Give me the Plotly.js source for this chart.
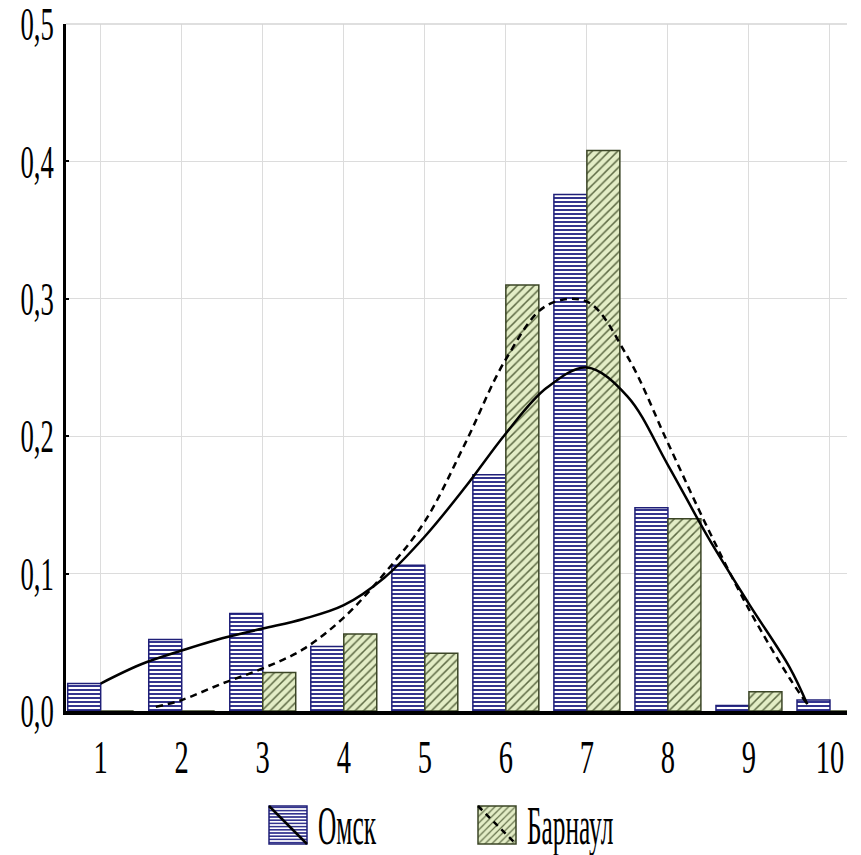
<!DOCTYPE html>
<html><head><meta charset="utf-8">
<script src="https://cdn.plot.ly/plotly-3.0.1.min.js"></script>
<style>html,body{margin:0;padding:0;background:#fff}#chart{width:861px;height:855px}</style>
</head><body><div id="chart"></div>
<script>
const categories = [1, 2, 3, 4, 5, 6, 7, 8, 9, 10];
const xTickLabels = ['1', '2', '3', '4', '5', '6', '7', '8', '9', '10'];
const seriesNames = ['Омск', 'Барнаул'];
const omskValues = [0.020, 0.052, 0.071, 0.047, 0.106, 0.172, 0.376, 0.148, 0.004, 0.008];
const barnaulValues = [0, 0, 0.028, 0.056, 0.042, 0.310, 0.408, 0.140, 0.014, 0];
const omskCurveX = [1, 1.5, 2, 2.5, 3, 3.5, 4, 4.5, 5, 5.5, 6, 6.5, 7, 7.5, 8, 8.5, 9, 9.5, 9.72];
const omskCurveY = [0.020, 0.034, 0.044, 0.053, 0.060, 0.067, 0.077, 0.097, 0.127, 0.163, 0.202, 0.235, 0.250, 0.229, 0.179, 0.126, 0.078, 0.032, 0.005];
const barnaulCurveX = [1.68, 2, 2.5, 3, 3.5, 4, 4.5, 5, 5.5, 6, 6.5, 7, 7.5, 8, 8.5, 9, 9.5, 9.72];
const barnaulCurveY = [0.003, 0.008, 0.020, 0.031, 0.045, 0.068, 0.100, 0.138, 0.195, 0.256, 0.295, 0.298, 0.258, 0.195, 0.132, 0.074, 0.024, 0.005];
const yTickValues = [0, 0.1, 0.2, 0.3, 0.4, 0.5];
const yTickLabels = ['0,0', '0,1', '0,2', '0,3', '0,4', '0,5'];

const FONT = 'Liberation Serif, Times New Roman, serif';
const BW = 0.407;

const traces = [
  {
    type: 'bar', name: seriesNames[0], x: categories, y: omskValues,
    width: BW, offset: -BW,
    marker: {
      color: '#ffffff',
      line: {color: '#1f1f78', width: 1.5},
      pattern: {shape: '-', fgcolor: '#34348e', bgcolor: '#ffffff', size: 4, solidity: 0.5}
    },
    hoverinfo: 'skip'
  },
  {
    type: 'bar', name: seriesNames[1], x: categories, y: barnaulValues,
    width: BW, offset: 0,
    marker: {
      color: '#e3edc6',
      line: {color: '#3b4526', width: 1.5},
      pattern: {shape: '/', fgcolor: '#5d6a44', bgcolor: '#e3edc6', size: 6, solidity: 0.25}
    },
    hoverinfo: 'skip'
  },
  {
    type: 'scatter', mode: 'lines', x: omskCurveX, y: omskCurveY, showlegend: false,
    line: {color: '#000000', width: 2.5, shape: 'spline', smoothing: 1}, hoverinfo: 'skip'
  },
  {
    type: 'scatter', mode: 'lines', x: barnaulCurveX, y: barnaulCurveY, showlegend: false,
    line: {color: '#000000', width: 2.5, dash: '7px,5px', shape: 'spline', smoothing: 1}, hoverinfo: 'skip'
  }
];

const layout = {
  width: 861, height: 855,
  margin: {l: 66, r: 14, t: 24, b: 144, autoexpand: false},
  paper_bgcolor: '#ffffff', plot_bgcolor: '#ffffff',
  showlegend: true,
  barmode: 'overlay',
  font: {family: FONT, color: '#000000', size: 46},
  xaxis: {
    range: [0.572, 10.21],
    tickvals: categories, ticktext: xTickLabels,
    showgrid: true, gridcolor: '#dcdcdc', gridwidth: 1,
    zeroline: false,
    showline: true, linecolor: '#000000', linewidth: 4,
    ticks: '', ticklabelstandoff: 3, ticklabeloverflow: 'allow',
    tickfont: {family: FONT, size: 46, color: '#000000'}
  },
  yaxis: {
    range: [0, 0.5],
    tickvals: yTickValues, ticktext: yTickLabels,
    showgrid: true, gridcolor: '#dcdcdc', gridwidth: 1,
    zeroline: false,
    showline: true, linecolor: '#000000', linewidth: 3,
    ticks: 'inside', ticklen: 3, tickwidth: 2, tickcolor: '#000000',
    ticklabelstandoff: 0, ticklabeloverflow: 'allow',
    tickfont: {family: FONT, size: 46, color: '#000000'}
  },
  shapes: [
    {type: 'line', layer: 'above', xref: 'paper', x0: 0, x1: 1, yref: 'paper', y0: 1, y1: 1,
     line: {color: '#d4d4d4', width: 1.5}}
  ],
  legend: {
    orientation: 'h', x: 0.5, xanchor: 'center', y: 0.9, yanchor: 'top',
    font: {family: FONT, size: 54, color: '#000000'},
    itemwidth: 60, bgcolor: 'rgba(0,0,0,0)', borderwidth: 0
  }
};

function condense(el, s) {
  const bb = el.getBBox();
  const anc = el.getAttribute('text-anchor') || 'start';
  let ax = bb.x;
  if (anc === 'middle') ax = bb.x + bb.width / 2;
  else if (anc === 'end') ax = bb.x + bb.width;
  const t = el.getAttribute('transform') || '';
  el.setAttribute('transform', t + ' translate(' + ax + ',0) scale(' + s + ',1) translate(' + (-ax) + ',0)');
}

function post(gd) {
  gd.querySelectorAll('g.xtick > text').forEach(el => condense(el, 0.62));
  gd.querySelectorAll('g.ytick > text').forEach(el => condense(el, 0.58));
  const legend = gd.querySelector('g.legend');
  if (!legend) return;
  legend.querySelectorAll('[clip-path]').forEach(e => e.removeAttribute('clip-path'));
  const items = legend.querySelectorAll('g.traces');
  const desiredTextLeft = [318, 527];
  const desiredCenterY = 825;
  items.forEach((g, i) => {
    const txt = g.querySelector('text.legendtext');
    condense(txt, 0.47);
    const tb = txt.getBBox();
    const path = g.querySelector('.legendpoints path');
    if (path) {
      const h = 19;
      path.setAttribute('d', 'M' + h + ',' + h + 'H' + (-h) + 'V' + (-h) + 'H' + h + 'Z');
      const cx = tb.x - 11 - h;
      const cy = tb.y + tb.height / 2;
      path.setAttribute('transform', 'translate(' + cx + ',' + cy + ')');
      const diag = document.createElementNS('http://www.w3.org/2000/svg', 'path');
      diag.setAttribute('d', 'M' + (-h) + ',' + (-h) + 'L' + h + ',' + h);
      diag.setAttribute('transform', 'translate(' + cx + ',' + cy + ')');
      diag.setAttribute('stroke', '#000000');
      diag.setAttribute('stroke-width', '2.5');
      diag.setAttribute('fill', 'none');
      if (i === 1) diag.setAttribute('stroke-dasharray', '6,5');
      path.parentNode.appendChild(diag);
    }
    const r = txt.getBoundingClientRect();
    const dx = desiredTextLeft[i] - r.left;
    const dy = desiredCenterY - (r.top + r.height / 2);
    const tr = g.getAttribute('transform') || 'translate(0,0)';
    const m = /translate\(\s*([-\d.e]+)[ ,]+([-\d.e]+)\s*\)/.exec(tr);
    const a = m ? parseFloat(m[1]) : 0, b = m ? parseFloat(m[2]) : 0;
    g.setAttribute('transform', 'translate(' + (a + dx) + ',' + (b + dy) + ')');
  });
}

Plotly.newPlot('chart', traces, layout, {staticPlot: true, displayModeBar: false}).then(post);
</script>
</body></html>
